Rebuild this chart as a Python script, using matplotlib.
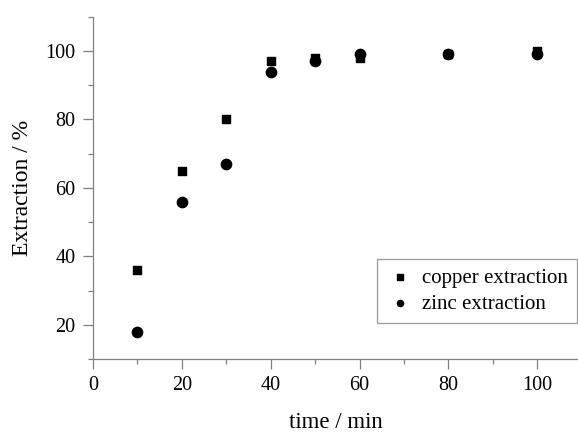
import matplotlib
matplotlib.use("Agg")
import matplotlib.pyplot as plt
from matplotlib.ticker import MultipleLocator

plt.rcParams['font.family'] = ['Liberation Serif', 'DejaVu Serif']

time_min = [10, 20, 30, 40, 50, 60, 80, 100]
copper = [36, 65, 80, 97, 98, 98, 99, 100]
zinc = [18, 56, 67, 94, 97, 99, 99, 99]

fig = plt.figure(figsize=(5.78, 4.32), dpi=100)
ax = fig.add_axes([0.161, 0.169, 0.839, 0.792])

ax.scatter(time_min, copper, marker='s', s=38, color='black', label='copper extraction', zorder=3)
ax.scatter(time_min, zinc, marker='o', s=55, color='black', label='zinc extraction', zorder=3)

ax.set_xlim(0, 109.2)
ax.set_ylim(10, 110)
ax.xaxis.set_major_locator(MultipleLocator(20))
ax.xaxis.set_minor_locator(MultipleLocator(10))
ax.yaxis.set_major_locator(MultipleLocator(20))
ax.yaxis.set_minor_locator(MultipleLocator(10))
ax.set_yticks([20, 40, 60, 80, 100])

for s in ['top', 'right']:
    ax.spines[s].set_visible(False)
for s in ['left', 'bottom']:
    ax.spines[s].set_color('#808080')
    ax.spines[s].set_linewidth(0.9)

ax.tick_params(which='major', length=7.5, width=0.9, color='#808080', labelsize=14.5, pad=5)
ax.tick_params(which='minor', length=3.5, width=0.9, color='#808080')

ax.set_xlabel('time / min', fontsize=16.5, labelpad=12)
ax.set_ylabel('Extraction / %', fontsize=17, labelpad=9)

leg = ax.legend(loc='lower right', bbox_to_anchor=(0.998, 0.105), fontsize=15, frameon=True,
                fancybox=False, edgecolor='#808080', handletextpad=0.4, borderpad=0.45,
                labelspacing=0.3, markerscale=0.6, handlelength=1.3, borderaxespad=0)
leg.get_frame().set_linewidth(0.9)

fig.savefig('out.png', dpi=100)
